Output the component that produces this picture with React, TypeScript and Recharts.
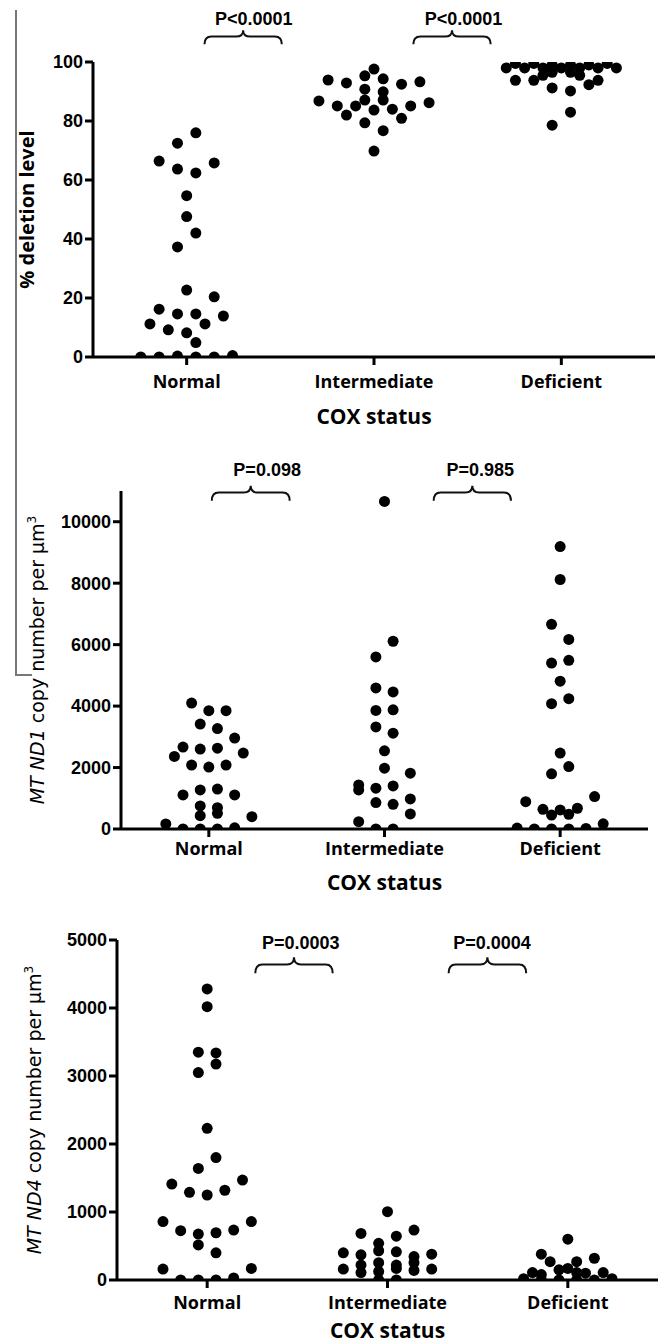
import React from 'react';
import { ScatterChart, Scatter, XAxis, YAxis, ReferenceArea, ReferenceDot } from 'recharts';

const GROUPS = ['Normal', 'Intermediate', 'Deficient'];

// each point: [value, column in the dot swarm]
const DELETION_NORMAL: [number, number][] = [
  [66.4, -3], [72.5, -1], [76, 1], [63.7, -1], [62.4, 1], [65.8, 3], [54.7, 0], [47.6, 0], [42, 1],
  [37.3, -1], [22.7, 0], [20.4, 3], [16.2, -3], [14.6, -1], [14.6, 1], [13.9, 4], [11.2, -4], [11.2, 2],
  [9.2, -2], [8.2, 0], [4.9, 1], [0, -5], [0, -3], [0.3, -1], [0, 1], [0, 3], [0.5, 5],
];
const DELETION_INTERMEDIATE: [number, number][] = [
  [86.8, -6], [93.9, -5], [92.9, -3], [85.1, -4], [82, -3], [85.1, -2], [95.3, -1], [97.6, 0], [94.3, 1],
  [90.8, -1], [89.9, 1], [87.1, -1], [87.1, 1], [83.7, 0], [84, 2], [92.5, 3], [85.1, 4], [80.9, 3],
  [93.3, 5], [86.2, 6], [79.4, -1], [76.7, 1], [69.8, 0],
];
const DELETION_DEFICIENT: [number, number][] = [
  [98, -6], [99.5, -5], [98, -4], [99.5, -3], [98, -2], [99, -1], [98, 0], [99, 1], [98, 2], [99, 3],
  [98, 4], [99.5, 5], [98, 6], [93.8, -5], [93.8, -3], [96.5, -1], [96.5, 1], [93.8, 4], [92.3, 3],
  [91.2, -1], [90.2, 1], [95.5, -2], [95.5, 2], [83, 1], [78.6, -1],
];

const ND1_NORMAL: [number, number][] = [
  [4100, -2], [3850, 0], [3850, 2], [3415, -1], [3270, 1], [2960, 3], [2665, -3], [2600, -1], [2630, 1],
  [2360, -4], [2470, 4], [2080, -2], [2015, 0], [2080, 2], [1110, -3], [1270, -1], [1300, 1], [1110, 3],
  [750, -1], [695, 1], [435, -1], [510, 1], [400, 5], [165, -5], [0, -3], [0, -1], [0, 1], [40, 3],
];
const ND1_INTERMEDIATE: [number, number][] = [
  [10660, 0], [6110, 1], [5600, -1], [4590, -1], [4460, 1], [3860, -1], [3880, 1], [3320, -1], [3120, 1],
  [2545, 0], [1980, 0], [1815, 3], [1435, -3], [1270, -3], [1330, -1], [1400, 1], [980, 3], [860, -1],
  [805, 1], [490, 3], [240, -3], [0, -1], [0, 1],
];
const ND1_DEFICIENT: [number, number][] = [
  [9190, 0], [8120, 0], [6660, -1], [6170, 1], [5400, -1], [5490, 1], [4810, 0], [4080, -1], [4240, 1],
  [2470, 0], [2030, 1], [1795, -1], [890, -4], [1055, 4], [640, -2], [620, 0], [675, 2], [455, -1],
  [480, 1], [30, -5], [0, -3], [0, -1], [0, 1], [20, 3], [170, 5],
];

const ND4_NORMAL: [number, number][] = [
  [4280, 0], [4020, 0], [3350, -1], [3340, 1], [3175, 1], [3050, -1], [2230, 0], [1800, 1], [1640, -1],
  [1410, -4], [1470, 4], [1290, -2], [1320, 2], [1250, 0], [860, -5], [860, 5], [725, -3], [735, 3],
  [675, -1], [695, 1], [515, -1], [400, 1], [160, -5], [170, 5], [0, -3], [0, -1], [0, 1], [30, 3],
];
const ND4_INTERMEDIATE: [number, number][] = [
  [1005, 0], [685, -3], [645, 1], [735, 3], [540, -1], [400, -5], [370, -3], [430, -1], [415, 1],
  [345, 3], [380, 5], [220, -3], [255, -1], [220, 1], [255, 3], [160, -5], [110, -3], [125, -1],
  [170, 1], [140, 3], [160, 5], [0, -1], [0, 1],
];
const ND4_DEFICIENT: [number, number][] = [
  [600, 0], [380, -3], [320, 3], [270, -2], [270, 1], [170, 0], [150, -1], [110, -4], [110, 4],
  [110, 1], [100, 2], [80, -3], [20, -5], [0, -3], [0, -1], [0, 1], [0, 3], [20, 5],
];

const COL_STEP = 0.049;
const swarm = (group: number, pts: [number, number][]) =>
  pts.map(([v, c]) => ({ x: group + c * COL_STEP, y: v }));

const NUM_FONT = "'Liberation Sans', Arial, sans-serif";
const CAT_FONT = "'Open Sans', 'Noto Sans', sans-serif";

const Dot = (p: any) => <circle cx={p.cx} cy={p.cy} r={5.5} fill="#000" />;

const Brace = (p: any) => {
  const { x, y, width, height } = p;
  const cx = x + width / 2;
  const mid = y + height * 0.45;
  const r = 7;
  const d = `M${x},${y + height} Q${x},${mid} ${x + r},${mid} L${cx - r},${mid} Q${cx},${mid} ${cx},${y} ` +
    `Q${cx},${mid} ${cx + r},${mid} L${x + width - r},${mid} Q${x + width},${mid} ${x + width},${y + height}`;
  return <path d={d} fill="none" stroke="#111" strokeWidth={2} />;
};

type BraceDef = { p: string; x1: number; x2: number; textX: number };

interface PanelProps {
  top: number;
  height: number;
  plotLeft: number;
  plotRight: number;
  plotTop: number;
  plotBottom: number;
  yMax: number;
  yTicks: number[];
  groups: [number, number][][];
  braces: BraceDef[];
  braceLow: number;
  braceHigh: number;
  braceText: number;
  yTitle: React.ReactNode;
  yTitleX: number;
  catGap: number;
  titleDy: number;
}

const Panel: React.FC<PanelProps> = (props) => {
  const {
    top, height, plotLeft, plotRight, plotTop, plotBottom, yMax, yTicks, groups,
    braces, braceLow, braceHigh, braceText, yTitle, yTitleX, catGap, titleDy,
  } = props;
  const axisHeight = height - (plotBottom - top);
  return (
    <div style={{ position: 'absolute', left: 0, top }}>
      <ScatterChart
        width={667}
        height={height}
        margin={{ top: plotTop - top, right: 667 - plotRight, left: 0, bottom: 0 }}
      >
        <XAxis
          type="number"
          dataKey="x"
          domain={[0.5, 3.5]}
          ticks={[1, 2, 3]}
          allowDataOverflow
          height={axisHeight}
          tickFormatter={(v: number) => GROUPS[v - 1]}
          axisLine={{ stroke: '#000', strokeWidth: 3 }}
          tickLine={{ stroke: '#000', strokeWidth: 3 }}
          tickSize={8}
          tickMargin={catGap - 8}
          tick={{ fill: '#000', fontSize: 18, fontWeight: 700, fontFamily: CAT_FONT }}
          label={(lp: any) => {
            const vb = lp.viewBox;
            return (
              <text
                x={vb.x + vb.width / 2}
                y={vb.y + titleDy}
                textAnchor="middle"
                fontFamily={CAT_FONT}
                fontWeight={700}
                fontSize={21}
                fill="#000"
              >
                COX status
              </text>
            );
          }}
        />
        <YAxis
          type="number"
          dataKey="y"
          domain={[0, yMax]}
          ticks={yTicks}
          interval={0}
          allowDataOverflow
          width={plotLeft}
          axisLine={{ stroke: '#000', strokeWidth: 3 }}
          tickLine={{ stroke: '#000', strokeWidth: 3 }}
          tickSize={8}
          tickMargin={2}
          tick={{ fill: '#000', fontSize: 18, fontWeight: 700, fontFamily: NUM_FONT }}
          label={(lp: any) => {
            const vb = lp.viewBox;
            const cy = vb.y + vb.height / 2;
            return (
              <text transform={`translate(${yTitleX},${cy}) rotate(-90)`} textAnchor="middle" dy="0.35em" fill="#000">
                {yTitle}
              </text>
            );
          }}
        />
        {groups.map((g, i) => (
          <Scatter key={GROUPS[i]} data={swarm(i + 1, g)} shape={Dot} isAnimationActive={false} />
        ))}
        {braces.map((b) => (
          <ReferenceArea
            key={`brace-${b.p}-${b.x1}`}
            x1={b.x1}
            x2={b.x2}
            y1={braceLow}
            y2={braceHigh}
            ifOverflow="visible"
            shape={Brace}
          />
        ))}
        {braces.map((b) => (
          <ReferenceDot
            key={`p-${b.p}-${b.x1}`}
            x={b.textX}
            y={braceText}
            ifOverflow="visible"
            shape={(dp: any) => (
              <text
                x={dp.cx}
                y={dp.cy}
                textAnchor="middle"
                fontFamily={NUM_FONT}
                fontWeight={700}
                fontSize={18}
                fill="#000"
              >
                {b.p}
              </text>
            )}
          />
        ))}
      </ScatterChart>
    </div>
  );
};

const copyTitle = (gene: string) => (
  <>
    <tspan fontStyle="italic">MT {gene}</tspan>
    <tspan> copy number per µm</tspan>
    <tspan dy={-8} fontSize={12}>3</tspan>
  </>
);

export default function App() {
  return (
    <div style={{ position: 'absolute', left: 0, top: 0, width: 667, height: 1343, background: '#fff', overflow: 'hidden' }}>
      <div style={{ position: 'absolute', left: 15, top: 10, width: 0, height: 665, borderLeft: '2px solid #777' }} />
      <div style={{ position: 'absolute', left: 15, top: 674, width: 17, height: 0, borderTop: '2px solid #777' }} />
      <Panel
        top={0}
        height={440}
        plotLeft={93}
        plotRight={655}
        plotTop={62}
        plotBottom={357}
        yMax={100}
        yTicks={[0, 20, 40, 60, 80, 100]}
        groups={[DELETION_NORMAL, DELETION_INTERMEDIATE, DELETION_DEFICIENT]}
        braces={[
          { p: 'P<0.0001', x1: 1.095, x2: 1.508, textX: 1.358 },
          { p: 'P<0.0001', x1: 2.21, x2: 2.623, textX: 2.478 },
        ]}
        braceLow={106}
        braceHigh={110.8}
        braceText={112.5}
        yTitle={<tspan fontFamily={CAT_FONT} fontWeight={700} fontSize={20}>% deletion level</tspan>}
        yTitleX={28}
        catGap={18}
        titleDy={67}
      />
      <Panel
        top={440}
        height={460}
        plotLeft={121}
        plotRight={648}
        plotTop={491}
        plotBottom={829}
        yMax={11000}
        yTicks={[0, 2000, 4000, 6000, 8000, 10000]}
        groups={[ND1_NORMAL, ND1_INTERMEDIATE, ND1_DEFICIENT]}
        braces={[
          { p: 'P=0.098', x1: 1.017, x2: 1.46, textX: 1.332 },
          { p: 'P=0.985', x1: 2.28, x2: 2.72, textX: 2.545 },
        ]}
        braceLow={10679}
        braceHigh={11168}
        braceText={11494}
        yTitle={<tspan fontFamily="'DejaVu Sans', sans-serif" fontSize={19}>{copyTitle('ND1')}</tspan>}
        yTitleX={38}
        catGap={13}
        titleDy={61}
      />
      <Panel
        top={900}
        height={443}
        plotLeft={117}
        plotRight={658}
        plotTop={940}
        plotBottom={1280}
        yMax={5000}
        yTicks={[0, 1000, 2000, 3000, 4000, 5000]}
        groups={[ND4_NORMAL, ND4_INTERMEDIATE, ND4_DEFICIENT]}
        braces={[
          { p: 'P=0.0003', x1: 1.267, x2: 1.696, textX: 1.519 },
          { p: 'P=0.0004', x1: 2.339, x2: 2.769, textX: 2.58 },
        ]}
        braceLow={4510}
        braceHigh={4746}
        braceText={4863}
        yTitle={<tspan fontFamily="'DejaVu Sans', sans-serif" fontSize={19}>{copyTitle('ND4')}</tspan>}
        yTitleX={35}
        catGap={16}
        titleDy={58}
      />
    </div>
  );
}
